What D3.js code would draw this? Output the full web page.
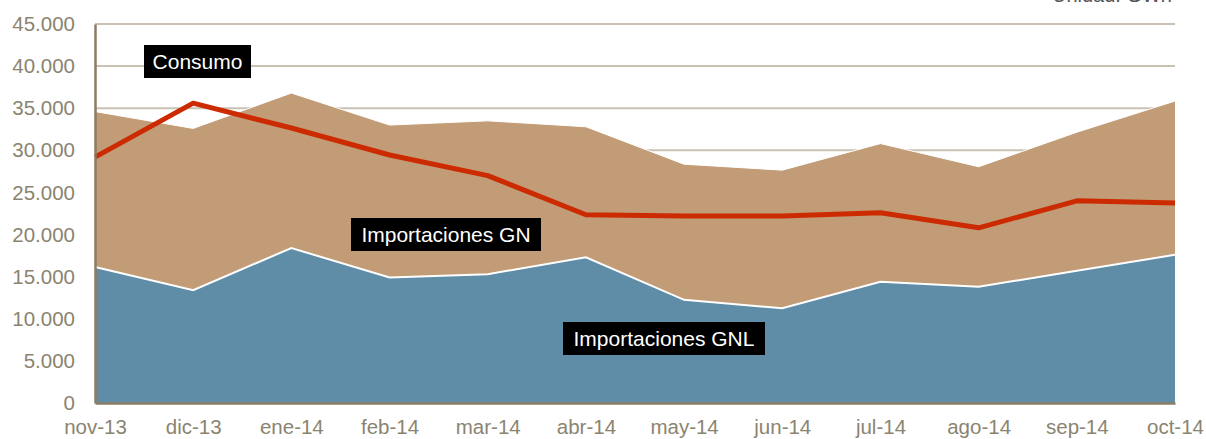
<!DOCTYPE html>
<html>
<head>
<meta charset="utf-8">
<script src="https://cdn.jsdelivr.net/npm/d3@7"></script>
<style>
  html, body { margin: 0; padding: 0; background: #ffffff; }
  svg { display: block; font-family: "Liberation Sans", Arial, sans-serif; }
</style>
</head>
<body>
<svg id="chart" width="1206" height="439"></svg>
<script>
// Monthly gas balance, GWh
const months = ["nov-13", "dic-13", "ene-14", "feb-14", "mar-14", "abr-14",
                "may-14", "jun-14", "jul-14", "ago-14", "sep-14", "oct-14"];
const importacionesGNL = [16150, 13400, 18400, 14900, 15300, 17300,
                          12250, 11250, 14400, 13800, 15700, 17600];
const importacionesGN  = [18450, 19200, 18400, 18100, 18200, 15500,
                          16100, 16400, 16400, 14250, 16450, 18250];
const consumo          = [29200, 35600, 32650, 29450, 27000, 22350,
                          22200, 22200, 22600, 20800, 24000, 23750];
const yTicks = [0, 5000, 10000, 15000, 20000, 25000, 30000, 35000, 40000, 45000];
const unitLabel = "Unidad: GWh";

const svg = d3.select("#chart");
const plotLeft = 95, plotRight = 1175, plotTop = 24, plotBottom = 403;

const x = d3.scalePoint().domain(months).range([plotLeft, plotRight]);
const y = d3.scaleLinear().domain([0, 45000]).range([plotBottom, plotTop]);

const fmt = v => d3.format(",")(v).replace(/,/g, ".");
const textColor = "#8a8470";

// gridlines
svg.append("g")
  .selectAll("line")
  .data(yTicks.filter(d => d > 0))
  .join("line")
  .attr("x1", plotLeft).attr("x2", plotRight)
  .attr("y1", d => y(d)).attr("y2", d => y(d))
  .attr("stroke", "#c9c2b4")
  .attr("stroke-width", 2);

// stacked series
const rows = months.map((m, i) => ({ m, gnl: importacionesGNL[i], gn: importacionesGN[i] }));
const stack = d3.stack().keys(["gnl", "gn"])(rows);

const area = d3.area()
  .x(d => x(d.data.m))
  .y0(d => y(d[0]))
  .y1(d => y(d[1]));

svg.append("path")
  .datum(stack[1])
  .attr("d", area)
  .attr("fill", "#c19c76");

svg.append("path")
  .datum(stack[0])
  .attr("d", area)
  .attr("fill", "#5f8ca7");

// white edges on top of each stacked layer
const edge = d3.line().x(d => x(d.data.m)).y(d => y(d[1]));
svg.append("path")
  .datum(stack[0])
  .attr("d", edge)
  .attr("fill", "none")
  .attr("stroke", "#ffffff")
  .attr("stroke-width", 2);
svg.append("path")
  .datum(stack[1])
  .attr("d", edge)
  .attr("fill", "none")
  .attr("stroke", "#ffffff")
  .attr("stroke-width", 1);

// consumption line
const line = d3.line().x((d, i) => x(months[i])).y(d => y(d));
svg.append("path")
  .datum(consumo)
  .attr("d", line)
  .attr("fill", "none")
  .attr("stroke", "#cc2a00")
  .attr("stroke-width", 5)
  .attr("stroke-linejoin", "round");

// axes
const yAxis = d3.axisLeft(y).tickValues(yTicks).tickSize(0).tickPadding(20).tickFormat(fmt);
const gy = svg.append("g").attr("transform", `translate(${plotLeft},0)`).call(yAxis);
gy.select(".domain").attr("stroke", "#8b7d64").attr("stroke-width", 2.5);
gy.selectAll("text")
  .attr("fill", textColor)
  .attr("font-size", 20.5)
  .attr("font-family", "Liberation Sans, Arial, sans-serif");

const xAxis = d3.axisBottom(x).tickSize(0).tickPadding(16);
const gx = svg.append("g").attr("transform", `translate(0,${plotBottom})`).call(xAxis);
gx.select(".domain").attr("stroke", "#8b7d64").attr("stroke-width", 2.5);
gx.selectAll("text")
  .attr("fill", textColor)
  .attr("font-size", 20.5)
  .attr("font-family", "Liberation Sans, Arial, sans-serif");

// unit note, top right
svg.append("text")
  .attr("x", 1172).attr("y", 2)
  .attr("text-anchor", "end")
  .attr("fill", "#555555")
  .attr("font-size", 20)
  .text(unitLabel);

// series labels in black boxes
const labels = [
  { text: "Consumo", cx: 197.5, cy: 61.5, w: 107 },
  { text: "Importaciones GN", cx: 446, cy: 234.5, w: 190 },
  { text: "Importaciones GNL", cx: 664, cy: 338.5, w: 202 }
];
const lg = svg.append("g").selectAll("g").data(labels).join("g");
lg.append("rect")
  .attr("x", d => d.cx - d.w / 2)
  .attr("y", d => d.cy - 16.5)
  .attr("width", d => d.w)
  .attr("height", 33)
  .attr("fill", "#000000");
lg.append("text")
  .attr("x", d => d.cx)
  .attr("y", d => d.cy + 7.5)
  .attr("text-anchor", "middle")
  .attr("fill", "#ffffff")
  .attr("font-size", 21)
  .text(d => d.text);
</script>
</body>
</html>
